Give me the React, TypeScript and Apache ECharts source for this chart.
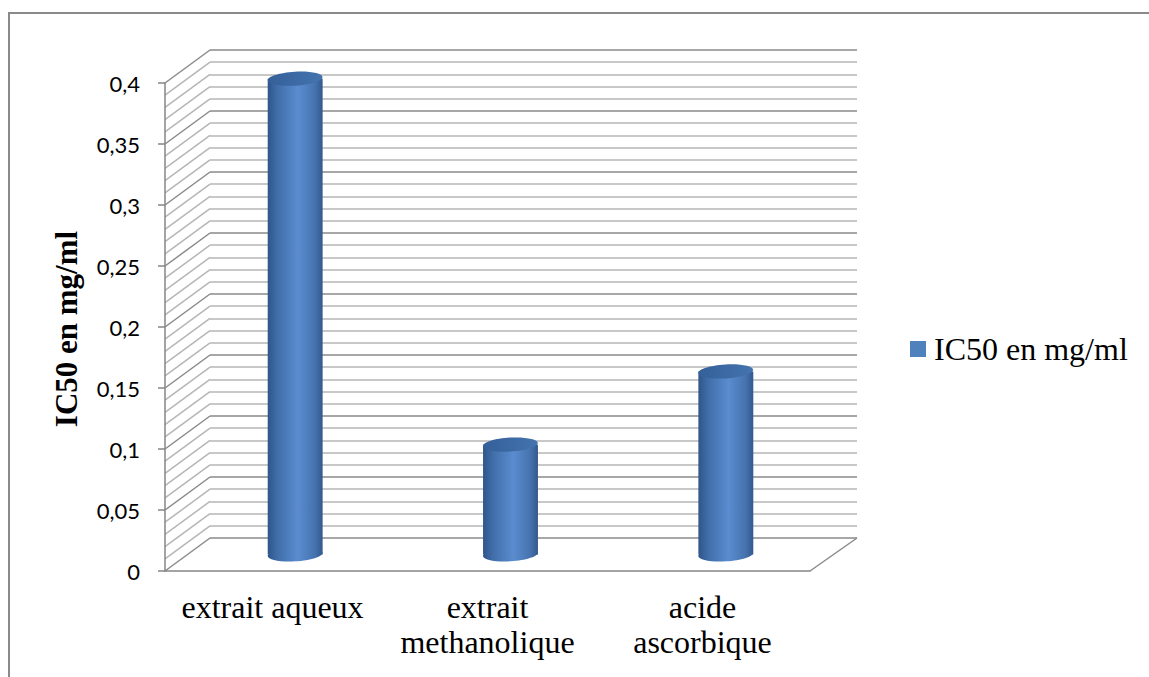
import React, { useEffect, useRef } from "react";
import * as echarts from "echarts";

// Data
const categories = ["extrait aqueux", "extrait\nmethanolique", "acide\nascorbique"];
const ic50Values = [0.39, 0.09, 0.15];
const seriesName = "IC50 en mg/ml";
const yAxisTitle = "IC50 en mg/ml";

// Value axis settings
const yMin = 0;
const yMax = 0.4;
const yStep = 0.05;
const minorPerMajor = 5;

// 3D box geometry: front plane and depth offset of the back wall
const FRONT = { left: 165, top: 83, width: 645, height: 488 };
const DEPTH_X = 45;
const DEPTH_Y = 33;

const MAJOR = "#8a8a8a";
const MINOR = "#b6b6b6";
const AXIS = "#868686";

// Levels of the side-wall lines (one per minor grid step)
const wallLevels: number[] = [];
{
  const minorStep = yStep / minorPerMajor;
  const n = Math.round((yMax - yMin) / minorStep);
  for (let i = 0; i <= n; i++) wallLevels.push(+(yMin + i * minorStep).toFixed(6));
}

const isMajor = (v: number) => Math.abs(v / yStep - Math.round(v / yStep)) < 1e-6;

export default function App() {
  const ref = useRef<HTMLDivElement>(null);

  useEffect(() => {
    if (!ref.current) return;
    const chart = echarts.init(ref.current, undefined, { renderer: "svg" });

    const valueAxisBase = { type: "value", min: yMin, max: yMax, interval: yStep };

    const option: any = {
      animation: false,
      backgroundColor: "#ffffff",
      legend: {
        data: [seriesName],
        left: 910,
        top: 331,
        padding: 0,
        icon: "rect",
        itemWidth: 16,
        itemHeight: 16,
        textStyle: {
          fontFamily: "Liberation Serif",
          fontSize: 32,
          color: "#000",
          lineHeight: 36,
          padding: [0, 0, 0, 3],
        },
      },
      grid: [
        // front plane (axes)
        { left: FRONT.left, top: FRONT.top, width: FRONT.width, height: FRONT.height },
        // back wall
        {
          left: FRONT.left + DEPTH_X,
          top: FRONT.top - DEPTH_Y,
          width: FRONT.width + 2,
          height: FRONT.height,
        },
        // middle plane where the cylinders stand
        {
          left: FRONT.left + DEPTH_X / 2,
          top: FRONT.top - DEPTH_Y / 2,
          width: FRONT.width + 1,
          height: FRONT.height,
        },
      ],
      xAxis: [
        {
          gridIndex: 0,
          type: "category",
          data: categories,
          axisLine: { show: true, lineStyle: { color: AXIS, width: 1.5 } },
          axisTick: { show: false },
          axisLabel: {
            interval: 0,
            fontFamily: "Liberation Serif",
            fontSize: 32,
            lineHeight: 35,
            color: "#000",
            margin: 18,
          },
          splitLine: { show: false },
          z: 3,
        },
        { gridIndex: 1, type: "category", data: categories, show: false },
        { gridIndex: 2, type: "category", data: categories, show: false },
      ],
      yAxis: [
        {
          ...valueAxisBase,
          gridIndex: 0,
          axisLine: { show: true, lineStyle: { color: AXIS, width: 1.5 } },
          axisTick: { show: true, length: 7, lineStyle: { color: AXIS, width: 1.5 } },
          axisLabel: {
            fontFamily: "Lato",
            fontSize: 22,
            color: "#000",
            margin: 25,
            formatter: (v: number) => String(+v.toFixed(4)).replace(".", ","),
          },
          splitLine: { show: false },
          z: 3,
        },
        {
          ...valueAxisBase,
          gridIndex: 1,
          axisLine: { show: false },
          axisTick: { show: false },
          axisLabel: { show: false },
          splitLine: { show: true, lineStyle: { color: MAJOR, width: 1.5 } },
          minorTick: { show: false, splitNumber: minorPerMajor },
          minorSplitLine: { show: true, lineStyle: { color: MINOR, width: 1.5 } },
        },
        { ...valueAxisBase, gridIndex: 2, show: false },
      ],
      graphic: [
        {
          type: "rect",
          silent: true,
          shape: { x: 9, y: 13, width: 1200, height: 720 },
          style: { fill: "none", stroke: "#8a8a8a", lineWidth: 2 },
        },
        {
          type: "text",
          x: 66,
          y: 329,
          rotation: Math.PI / 2,
          style: {
            text: yAxisTitle,
            fontFamily: "Liberation Serif",
            fontWeight: "bold",
            fontSize: 31,
            fill: "#000",
            align: "center",
            verticalAlign: "middle",
          },
        },
      ],
      series: [
        // side wall and floor edges
        {
          type: "custom",
          name: "walls",
          xAxisIndex: 0,
          yAxisIndex: 0,
          silent: true,
          z: 1,
          data: wallLevels.map((v) => [0, v]),
          renderItem: (params: any, api: any) => {
            const v = api.value(1);
            const p = api.coord([0, v]);
            const cs = params.coordSys;
            const x0 = cs.x;
            const children: any[] = [
              {
                type: "line",
                shape: { x1: x0, y1: p[1], x2: x0 + DEPTH_X, y2: p[1] - DEPTH_Y },
                style: { stroke: isMajor(v) ? MAJOR : MINOR, lineWidth: 1.5 },
              },
            ];
            if (v === yMin) {
              children.push({
                type: "line",
                shape: {
                  x1: x0 + cs.width,
                  y1: p[1],
                  x2: x0 + cs.width + DEPTH_X + 2,
                  y2: p[1] - DEPTH_Y,
                },
                style: { stroke: MAJOR, lineWidth: 1.5 },
              });
            }
            return { type: "group", children };
          },
        },
        // cylinders
        {
          type: "custom",
          name: seriesName,
          xAxisIndex: 2,
          yAxisIndex: 2,
          z: 5,
          itemStyle: { color: "#4f81bd" },
          data: ic50Values.map((v, i) => [i, v]),
          encode: { x: 0, y: 1 },
          renderItem: (params: any, api: any) => {
            const i = api.value(0);
            const v = api.value(1);
            const top = api.coord([i, v]);
            const base = api.coord([i, yMin]);
            const w = api.size([1, 0])[0] * 0.255;
            const rx = w / 2;
            const ry = 7;
            const cx = top[0];
            const body = new echarts.graphic.LinearGradient(0, 0, 1, 0, [
              { offset: 0, color: "#2e558a" },
              { offset: 0.18, color: "#416ea9" },
              { offset: 0.55, color: "#5a8ccf" },
              { offset: 0.85, color: "#4774b0" },
              { offset: 1, color: "#33598d" },
            ]);
            const cap = new echarts.graphic.LinearGradient(0, 0, 1, 0, [
              { offset: 0, color: "#35609a" },
              { offset: 1, color: "#4473ad" },
            ]);
            return {
              type: "group",
              children: [
                {
                  type: "ellipse",
                  shape: { cx, cy: base[1], rx, ry },
                  rotation: 0.06,
                  originX: cx,
                  originY: base[1],
                  style: { fill: body },
                },
                {
                  type: "rect",
                  shape: { x: cx - rx, y: top[1], width: w, height: base[1] - top[1] },
                  style: { fill: body },
                },
                {
                  type: "ellipse",
                  shape: { cx, cy: top[1], rx, ry },
                  rotation: 0.06,
                  originX: cx,
                  originY: top[1],
                  style: { fill: cap },
                },
              ],
            };
          },
        },
      ],
    };

    chart.setOption(option);
    return () => chart.dispose();
  }, []);

  return (
    <div
      ref={ref}
      style={{ position: "absolute", left: 0, top: 0, width: 1149, height: 677, background: "#fff" }}
    />
  );
}
